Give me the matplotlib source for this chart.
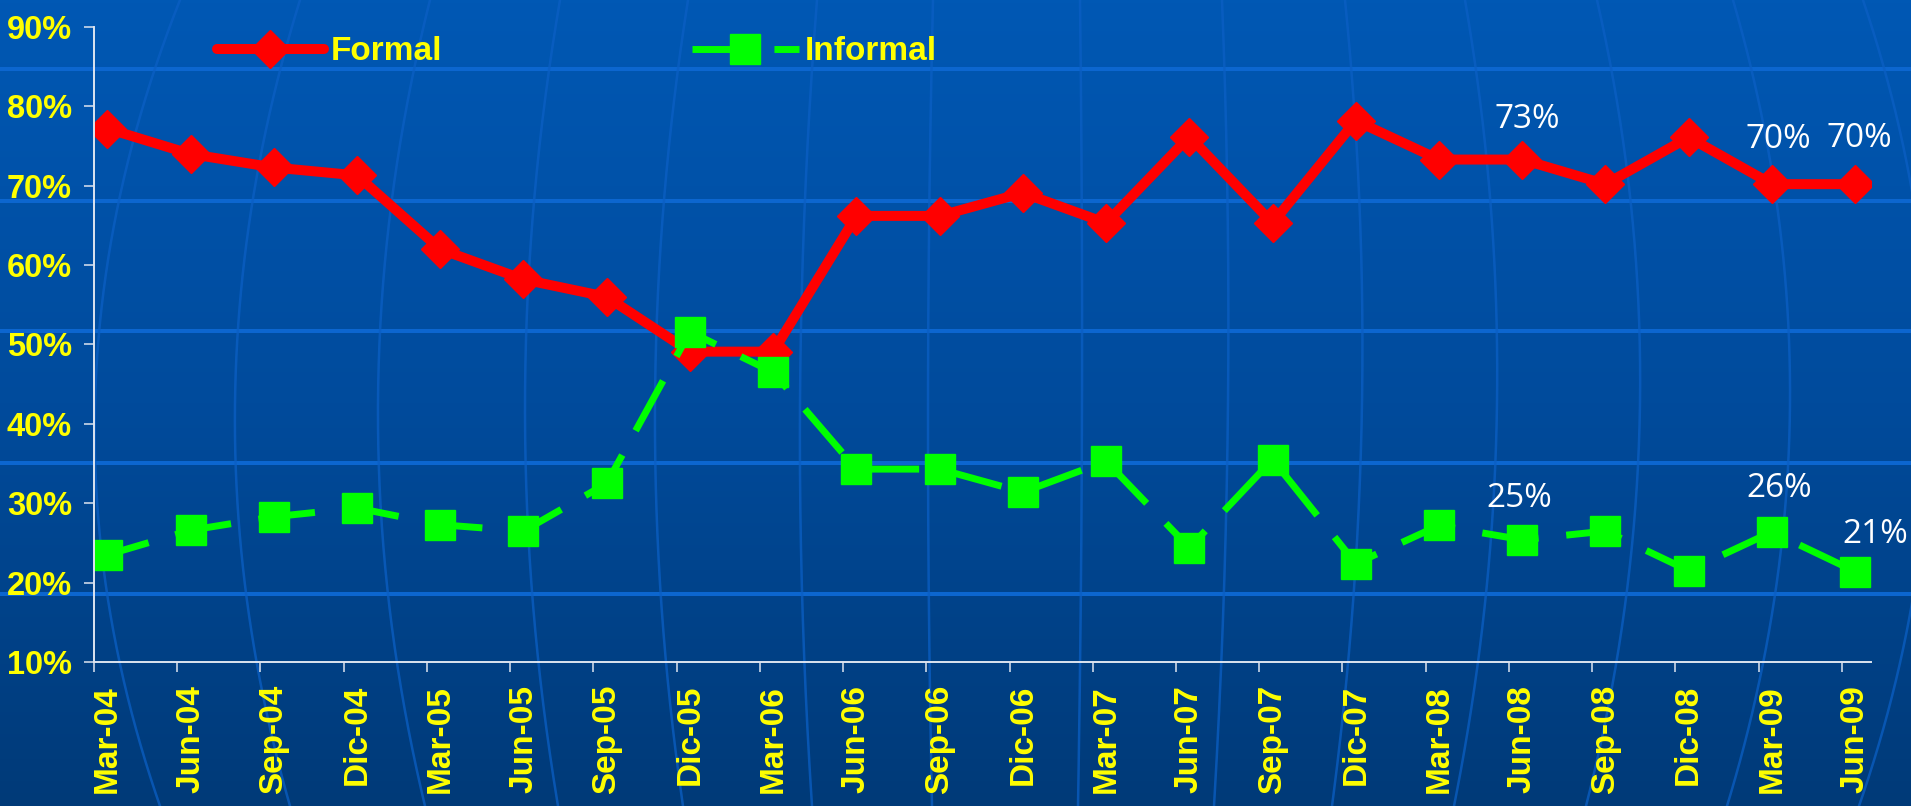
import numpy as np
import matplotlib.pyplot as plt
from matplotlib.colors import LinearSegmentedColormap
from matplotlib.lines import Line2D

quarters = ['Mar-04', 'Jun-04', 'Sep-04', 'Dic-04', 'Mar-05', 'Jun-05', 'Sep-05',
            'Dic-05', 'Mar-06', 'Jun-06', 'Sep-06', 'Dic-06', 'Mar-07', 'Jun-07',
            'Sep-07', 'Dic-07', 'Mar-08', 'Jun-08', 'Sep-08', 'Dic-08', 'Mar-09', 'Jun-09']
formal = [77.2, 74.0, 72.3, 71.3, 62.0, 58.2, 56.0, 49.1, 49.1, 66.2, 66.2, 69.1,
          65.3, 76.2, 65.3, 78.2, 73.3, 73.3, 70.2, 76.1, 70.2, 70.2]
informal = [23.5, 26.6, 28.3, 29.4, 27.3, 26.5, 32.5, 51.6, 46.5, 34.3, 34.3, 31.4,
            35.3, 24.4, 35.5, 22.4, 27.2, 25.4, 26.5, 21.5, 26.4, 21.4]
yticks = [10, 20, 30, 40, 50, 60, 70, 80, 90]

# which points get a value label, and where (offset in points)
formal_labels = {17: (3.6, 29), 20: (4.3, 32), 21: (2.9, 33)}
informal_labels = {17: (-2, 30), 20: (5, 31), 21: (14.5, 27)}

YEL = '#FFFF00'
W, H = 1911, 806
fig = plt.figure(figsize=(W / 100, H / 100), dpi=100)

# background: gradient, bands and globe meridians (pixel coords)
bg = fig.add_axes([0, 0, 1, 1], zorder=0)
cmap = LinearSegmentedColormap.from_list('bg', ['#0058B4', '#004B9C', '#003A78'])
bg.imshow(np.linspace(0, 1, 256).reshape(-1, 1), aspect='auto', cmap=cmap,
          extent=[0, W, H, 0])
for yy in [69, 201, 331, 463, 594]:
    bg.axhline(yy, color='#0C66CF', lw=2.9)
meridians = [(180, 95, 160), (300, 235, 290), (430, 378, 425), (560, 525, 558),
             (688, 655, 683), (817, 800, 812), (933, 928, 932), (1080, 1082, 1078),
             (1222, 1228, 1214), (1345, 1362, 1332), (1465, 1497, 1454),
             (1597, 1640, 1586), (1733, 1790, 1727), (1863, 1930, 1859)]
ys = np.linspace(0, H, 200)
for m in meridians:
    c = np.polyfit([0, H / 2, H], m, 2)
    bg.plot(np.polyval(c, ys), ys, color='#0B5FC4', lw=1.8, alpha=0.75)
bg.set_xlim(0, W)
bg.set_ylim(H, 0)
bg.axis('off')

ax = fig.add_axes([94 / W, 1 - 662 / H, (1871 - 94) / W, (662 - 27) / H], zorder=1)
ax.set_facecolor('none')
x = np.arange(len(quarters))

l1, = ax.plot(x, formal, color='#FF0000', lw=7.2, marker='D', ms=19.5, mec='#FF0000',
              label='Formal', solid_joinstyle='round', solid_capstyle='round')
ax.plot(x, informal, color='#00FF00', lw=5, ls=(2, (8.2, 4)), marker='s', ms=21,
        mec='#00FF00', label='Informal')

for i, off in formal_labels.items():
    ax.annotate('%d%%' % round(formal[i]), (x[i], formal[i]), xytext=off,
                textcoords='offset points', ha='center', va='center',
                color='white', fontsize=24, family='Open Sans')
for i, off in informal_labels.items():
    ax.annotate('%d%%' % int(informal[i]), (x[i], informal[i]), xytext=off,
                textcoords='offset points', ha='center', va='center',
                color='white', fontsize=24, family='Open Sans')

ax.set_xlim(-0.16, 21.19)
ax.set_ylim(10, 90)
ax.set_yticks(yticks, labels=['%d%%' % v for v in yticks])
ax.set_xticks(x - 0.16, labels=[])
ax.set_xticks(x, labels=quarters, minor=True, rotation=90)
ax.tick_params(axis='x', which='major', length=7.2, width=1.1, color='#DDE4F0')
ax.tick_params(axis='x', which='minor', length=0, pad=16.5)
ax.tick_params(axis='y', length=7.2, width=1.1, color='#DDE4F0', pad=8.6)
for lab in ax.get_xticklabels(minor=True) + ax.get_yticklabels():
    lab.set_color(YEL)
    lab.set_fontweight('bold')
    lab.set_family('Liberation Sans')
for lab in ax.get_xticklabels(minor=True):
    lab.set_fontsize(24)
for lab in ax.get_yticklabels():
    lab.set_fontsize(23.5)

for s in ['top', 'right']:
    ax.spines[s].set_visible(False)
for s in ['left', 'bottom']:
    ax.spines[s].set_color('#DDE4F0')
    ax.spines[s].set_linewidth(1.4)

# legend handle for the dashed series, so the gap shows past the square
inf_handle = Line2D([], [], color='#00FF00', lw=5, ls=(0, (9.2, 2.6)), marker='s',
                    ms=21, mec='#00FF00')
leg = ax.legend([l1, inf_handle], ['Formal', 'Informal'], loc='center left',
                bbox_to_anchor=(217 / W, 1 - 52 / H),
                bbox_transform=fig.transFigure, ncol=2, frameon=False,
                borderaxespad=0, borderpad=0, handlelength=3.2, handletextpad=0.2,
                columnspacing=7.5,
                prop={'family': 'Liberation Sans', 'weight': 'bold', 'size': 24})
for t in leg.get_texts():
    t.set_color(YEL)

fig.savefig('out.png', dpi=100)
